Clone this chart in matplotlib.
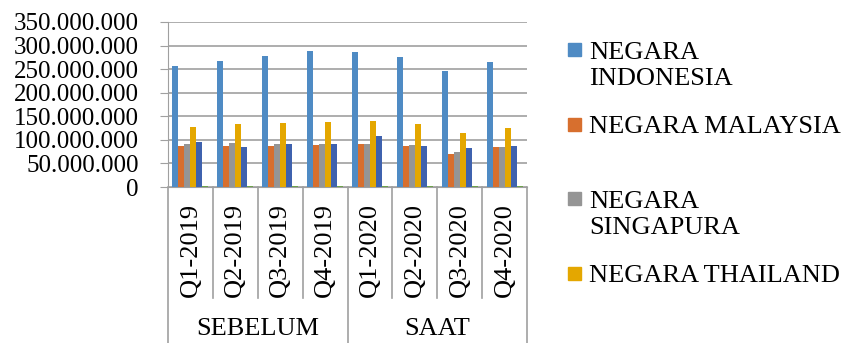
import numpy as np
import matplotlib
matplotlib.use("Agg")
import matplotlib.pyplot as plt
import matplotlib.transforms as mtransforms
from matplotlib.patches import Rectangle
from matplotlib.lines import Line2D
from matplotlib.ticker import FuncFormatter

plt.rcParams['font.family'] = ['Liberation Serif', 'DejaVu Serif']

quarters = ['Q1-2019', 'Q2-2019', 'Q3-2019', 'Q4-2019',
            'Q1-2020', 'Q2-2020', 'Q3-2020', 'Q4-2020']
groups = ['SEBELUM', 'SAAT']
group_size = [4, 4]

indonesia = [256e6, 267e6, 277e6, 288e6, 286e6, 275e6, 246e6, 265e6]
malaysia = [88e6, 86e6, 88e6, 90e6, 92e6, 86e6, 69e6, 85e6]
singapura = [92e6, 94e6, 92e6, 92e6, 92e6, 90e6, 74e6, 84e6]
thailand = [127e6, 133e6, 135e6, 138e6, 139e6, 133e6, 114e6, 125e6]
series5 = [96e6, 84e6, 92e6, 92e6, 108e6, 87e6, 82e6, 87e6]
series6 = [3e6, 3e6, 3e6, 2e6, 3e6, 2e6, 2e6, 2e6]

all_series = [indonesia, malaysia, singapura, thailand, series5, series6]
colors = ['#4F8BC4', '#D76F2E', '#959595', '#E4A700', '#3F62AE', '#6DA24B']
legend_names = ['NEGARA\nINDONESIA', 'NEGARA MALAYSIA', 'NEGARA\nSINGAPURA', 'NEGARA THAILAND']

FS_TICK = 18
FS = 19

fig = plt.figure(figsize=(8.48, 3.43), dpi=100)
ax = fig.add_axes([168 / 848, 1 - 187 / 343, (527 - 168) / 848, (187 - 22) / 343])

x = np.arange(len(quarters))
n = len(all_series)
width = 1 / (n + 1.5)
for i, (vals, c) in enumerate(zip(all_series, colors)):
    ax.bar(x - 0.5 + 0.75 * width + (i + 0.5) * width, vals, width, color=c, zorder=3)

ax.set_xlim(-0.5, len(quarters) - 0.5)
ax.set_ylim(0, 350e6)
ax.set_yticks(np.arange(0, 350e6 + 1, 50e6))
ax.yaxis.set_major_formatter(FuncFormatter(lambda v, p: f'{int(v):,}'.replace(',', '.')))
ax.tick_params(axis='y', labelsize=FS_TICK, length=6, color='#a0a0a0', pad=15)
ax.set_xticks([])
ax.grid(axis='y', color='#a0a0a0', linewidth=1.2, zorder=0)
for s in ['top', 'right']:
    ax.spines[s].set_visible(False)
ax.spines['left'].set_color('#a0a0a0')
ax.spines['bottom'].set_color('#a0a0a0')

# category labels and divider lines
tr = mtransforms.blended_transform_factory(ax.transData, fig.transFigure)
for i, q in enumerate(quarters):
    ax.text(i, 1 - 250 / 343, q, rotation=90, ha='center', va='center',
            fontsize=FS, transform=tr)
edges = np.cumsum([0] + group_size) - 0.5
for b in np.arange(len(quarters) + 1) - 0.5:
    y0 = 0.0 if b in edges else 1 - 298 / 343
    fig.add_artist(Line2D([b, b], [y0, 1 - 187 / 343], transform=tr,
                          color='#a0a0a0', linewidth=1.2))
for g, lo, hi in zip(groups, edges[:-1], edges[1:]):
    ax.text((lo + hi) / 2, 1 - 329 / 343, g, ha='center', va='center',
            fontsize=FS, transform=tr)

# legend
for k, (name, c) in enumerate(zip(legend_names, colors)):
    cap_top = 42 + k * 74.5
    fig.add_artist(Rectangle((568 / 848, 1 - (cap_top + 14) / 343), 13 / 848, 13 / 343,
                             transform=fig.transFigure, color=c))
    fig.text(589 / 848, 1 - cap_top / 343, name, ha='left', va='top',
             fontsize=FS, linespacing=1.25)

fig.savefig('out.png', dpi=100)
